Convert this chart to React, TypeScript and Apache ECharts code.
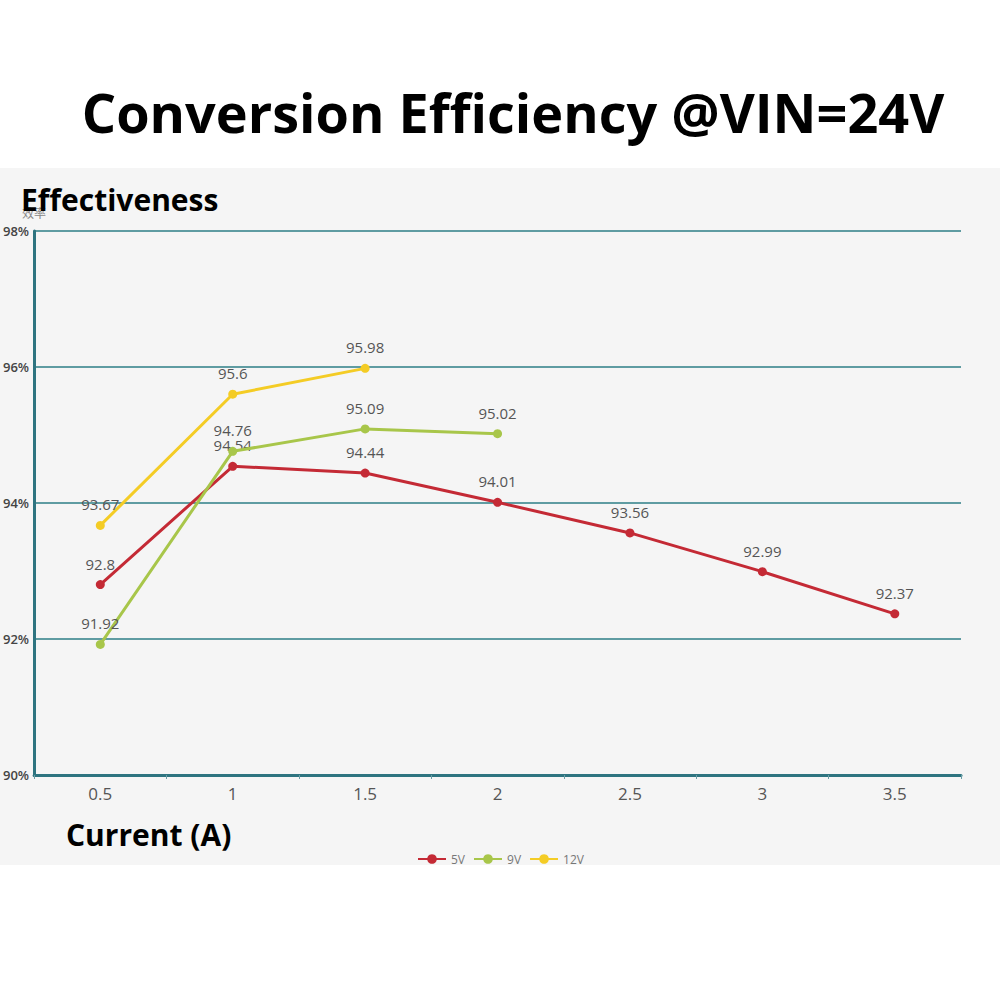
import React, { useEffect, useRef } from "react";
import * as echarts from "echarts";

const categories = ["0.5", "1", "1.5", "2", "2.5", "3", "3.5"];
const series5V = [92.8, 94.54, 94.44, 94.01, 93.56, 92.99, 92.37];
const series9V = [91.92, 94.76, 95.09, 95.02];
const series12V = [93.67, 95.6, 95.98];
const seriesNames = ["5V", "9V", "12V"];
const seriesColors = ["#c42a35", "#a8c64a", "#f4cc25"];

export default function App() {
  const ref = useRef<HTMLDivElement>(null);
  useEffect(() => {
    if (!ref.current) return;
    const chart = echarts.init(ref.current, undefined, { renderer: "svg" });
    const dataSets = [series5V, series9V, series12V];
    chart.setOption({
      animation: false,
      backgroundColor: "#ffffff",
      title: {
        text: "Conversion Efficiency @VIN=24V",
        left: 508,
        textAlign: "center",
        top: 80,
        textStyle: {
          fontFamily: "Open Sans",
          fontWeight: 700,
          fontSize: 54,
          color: "#000",
        },
      },
      graphic: [
        {
          type: "rect",
          z: -10,
          silent: true,
          shape: { x: 0, y: 168, width: 1000, height: 697 },
          style: { fill: "#f5f5f5" },
        },
        {
          type: "text",
          x: 22,
          y: 212,
          z: 5,
          style: {
            text: "效率",
            fontFamily: "Noto Sans CJK SC",
            fontSize: 12,
            fill: "#888",
            textVerticalAlign: "middle",
          },
        },
        {
          type: "text",
          x: 21,
          y: 199,
          z: 10,
          style: {
            text: "Effectiveness",
            fontFamily: "Open Sans",
            fontWeight: 700,
            fontSize: 30,
            fill: "#000",
            textVerticalAlign: "middle",
          },
        },
        {
          type: "text",
          x: 66,
          y: 834,
          z: 10,
          style: {
            text: "Current (A)",
            fontFamily: "Open Sans",
            fontWeight: 700,
            fontSize: 30,
            fill: "#000",
            textVerticalAlign: "middle",
          },
        },
      ],
      legend: {
        data: seriesNames,
        left: 412,
        top: 848,
        itemWidth: 28,
        itemHeight: 12,
        itemGap: 8,
        textStyle: { fontSize: 12, color: "#777", fontFamily: "Open Sans" },
      },
      grid: { left: 33, right: 39, top: 231, bottom: 225, containLabel: false },
      xAxis: {
        type: "category",
        data: categories,
        boundaryGap: true,
        axisLine: { lineStyle: { color: "#2e7480", width: 3 } },
        axisTick: { show: true, length: 4, lineStyle: { color: "#6a9ea6", width: 1 } },
        axisLabel: {
          fontSize: 17,
          color: "#555",
          margin: 10,
          fontFamily: "Open Sans",
        },
      },
      yAxis: {
        type: "value",
        min: 90,
        max: 98,
        interval: 2,
        axisLine: { show: true, lineStyle: { color: "#2e7480", width: 3 } },
        axisTick: { show: false },
        axisLabel: {
          formatter: "{value}%",
          fontSize: 13,
          fontWeight: 600,
          color: "#444",
          margin: 5,
          fontFamily: "Open Sans",
        },
        splitLine: { lineStyle: { color: "#5f9ca2", width: 2 } },
      },
      series: dataSets.map((d, i) => ({
        name: seriesNames[i],
        type: "line",
        data: d,
        color: seriesColors[i],
        symbol: "circle",
        symbolSize: 9,
        lineStyle: { width: 3, color: seriesColors[i] },
        itemStyle: { color: seriesColors[i] },
        label: {
          show: true,
          position: "top",
          distance: 9,
          fontSize: 15,
          color: "#555",
          fontFamily: "Open Sans",
        },
        z: 3 + i,
      })),
    });
    return () => chart.dispose();
  }, []);
  return (
    <div
      ref={ref}
      style={{ position: "fixed", left: 0, top: 0, width: 1000, height: 1000 }}
    />
  );
}
